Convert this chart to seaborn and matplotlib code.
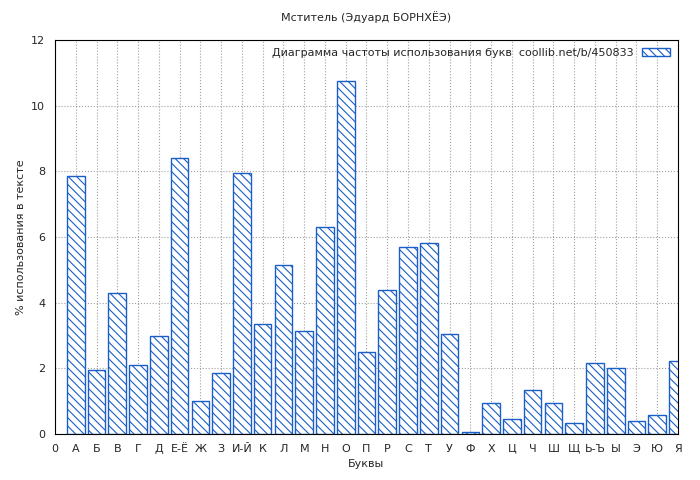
import numpy as np
import pandas as pd
import seaborn as sns
import matplotlib.pyplot as plt

letters = ['А', 'Б', 'В', 'Г', 'Д', 'Е-Ё', 'Ж', 'З', 'И-Й', 'К', 'Л', 'М', 'Н', 'О', 'П',
           'Р', 'С', 'Т', 'У', 'Ф', 'Х', 'Ц', 'Ч', 'Ш', 'Щ', 'Ь-Ъ', 'Ы', 'Э', 'Ю', 'Я']
percent = [7.85, 1.95, 4.3, 2.1, 3.0, 8.4, 1.0, 1.85, 7.95, 3.35, 5.15, 3.15, 6.3, 10.75, 2.5,
           4.38, 5.7, 5.82, 3.05, 0.05, 0.95, 0.45, 1.35, 0.95, 0.33, 2.15, 2.0, 0.4, 0.58, 2.22]

df = pd.DataFrame({'pos': np.arange(1, len(letters) + 1), 'val': percent})

sns.set_style('white')
plt.rcParams['font.family'] = ['DejaVu Sans']
plt.rcParams['hatch.color'] = '#1a5fc8'
plt.rcParams['hatch.linewidth'] = 0.8

fig, ax = plt.subplots(figsize=(7, 4.8), dpi=100)
fig.subplots_adjust(left=55/700, right=678/700, top=1-40/480, bottom=1-434/480)

sns.barplot(data=df, x='pos', y='val', native_scale=True, width=0.85,
            color='white', edgecolor='#1a5fc8', linewidth=1, hatch='\\\\\\\\', ax=ax,
            label='Диаграмма частоты использования букв  coollib.net/b/450833')

ax.set_xlim(0, 30)
ax.set_ylim(0, 12)
ax.set_xticks(range(0, 31))
ax.set_xticklabels(['0'] + letters, fontsize=8)
ax.set_yticks(range(0, 13, 2))
ax.tick_params(axis='y', labelsize=8)
ax.grid(True, color='#a0a0a0', linestyle=':', linewidth=0.8)
ax.set_axisbelow(True)
for s in ax.spines.values():
    s.set_color('black')
ax.set_xlabel('Буквы', fontsize=8)
ax.set_ylabel('% использования в тексте', fontsize=8)
ax.set_title('Мститель (Эдуард БОРНХЁЭ)', fontsize=8, pad=14)
ax.legend(loc='upper right', fontsize=8, frameon=False, markerfirst=False,
          handlelength=2.5, borderaxespad=0.3)

fig.savefig('out.png', dpi=100)
